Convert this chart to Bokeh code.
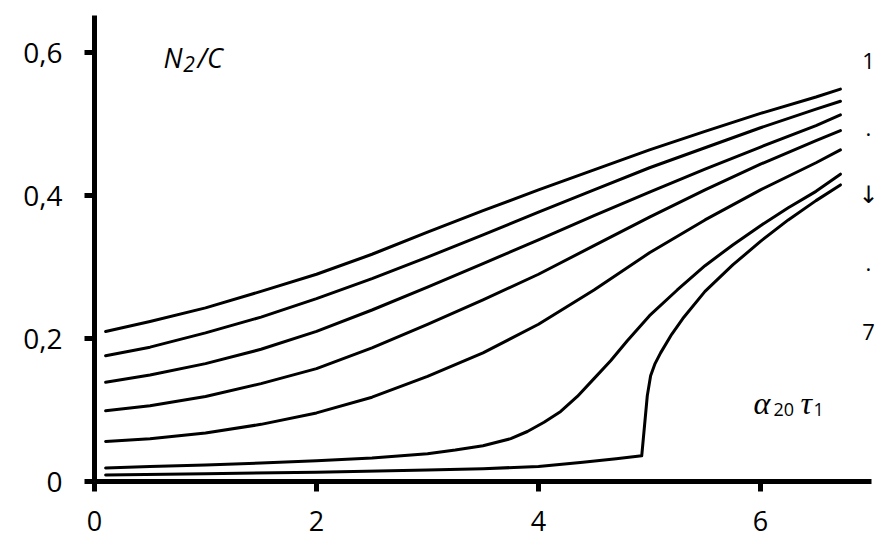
from bokeh.plotting import figure
from bokeh.models import Range1d, Label, FixedTicker
from bokeh.embed import file_html
from bokeh.resources import INLINE

# ---- data ----
x_ticks = [0, 2, 4, 6]
x_tick_labels = ["0", "2", "4", "6"]
y_ticks = [0, 0.2, 0.4, 0.6]
y_tick_labels = ["0", "0,2", "0,4", "0,6"]

x_common = [0.1, 0.5, 1.0, 1.5, 2.0, 2.5, 3.0, 3.5, 4.0, 4.5, 5.0, 5.5, 6.0, 6.5, 6.72]
curve1 = [0.210, 0.224, 0.243, 0.266, 0.290, 0.318, 0.349, 0.379, 0.408, 0.436, 0.464, 0.490, 0.515, 0.538, 0.549]
curve2 = [0.176, 0.188, 0.208, 0.230, 0.256, 0.284, 0.314, 0.345, 0.377, 0.408, 0.439, 0.467, 0.495, 0.521, 0.532]
curve3 = [0.139, 0.149, 0.165, 0.185, 0.210, 0.240, 0.272, 0.305, 0.338, 0.372, 0.405, 0.437, 0.468, 0.498, 0.513]
curve4 = [0.099, 0.106, 0.119, 0.137, 0.158, 0.187, 0.220, 0.254, 0.290, 0.330, 0.370, 0.408, 0.444, 0.477, 0.491]
curve5 = [0.056, 0.060, 0.068, 0.080, 0.096, 0.118, 0.147, 0.180, 0.220, 0.268, 0.320, 0.366, 0.408, 0.446, 0.464]

x_curve6 = [0.1, 0.5, 1.0, 1.5, 2.0, 2.5, 3.0, 3.25, 3.5, 3.75, 3.9, 4.05, 4.2, 4.35, 4.5,
            4.65, 4.8, 5.0, 5.25, 5.5, 5.75, 6.0, 6.25, 6.5, 6.72]
curve6 = [0.019, 0.021, 0.023, 0.026, 0.029, 0.033, 0.039, 0.044, 0.050, 0.060, 0.070, 0.083, 0.098, 0.119, 0.144,
          0.169, 0.197, 0.232, 0.268, 0.302, 0.331, 0.358, 0.383, 0.406, 0.430]

x_curve7 = [0.1, 1.0, 2.0, 3.0, 3.5, 4.0, 4.4, 4.7, 4.93, 4.98, 5.01, 5.05, 5.1, 5.2, 5.3, 5.5, 5.75, 6.0, 6.25, 6.5, 6.72]
curve7 = [0.009, 0.011, 0.013, 0.016, 0.018, 0.021, 0.027, 0.032, 0.036, 0.120, 0.148, 0.165, 0.180, 0.206, 0.228,
          0.266, 0.303, 0.336, 0.366, 0.393, 0.415]

series = [
    (x_common, curve1), (x_common, curve2), (x_common, curve3),
    (x_common, curve4), (x_common, curve5), (x_curve6, curve6), (x_curve7, curve7),
]

right_labels = ["1", ".", "\u2193", ".", "7"]

# ---- figure ----
# the frame fills the whole canvas; both axes are pinned at 0 and bounded
p = figure(width=878, height=540, output_backend="svg", toolbar_location=None,
           x_range=Range1d(-0.847, 7.063), y_range=Range1d(-0.0825, 0.673),
           min_border_left=0, min_border_right=0, min_border_top=0, min_border_bottom=0)
p.outline_line_color = None
p.grid.visible = False
p.background_fill_color = "white"
p.border_fill_color = "white"

for xs, ys in series:
    p.line(xs, ys, line_color="black", line_width=3, line_join="round", line_cap="round")

for ax in (p.xaxis[0], p.yaxis[0]):
    ax.axis_line_width = 5
    ax.axis_line_color = "black"
    ax.major_tick_line_width = 5
    ax.major_tick_line_color = "black"
    ax.major_tick_in = 0
    ax.major_tick_out = 10
    ax.minor_tick_line_color = None
    ax.major_label_text_font = "Open Sans"
    ax.major_label_text_font_size = "28px"
    ax.major_label_text_color = "black"
    ax.fixed_location = 0

p.xaxis.bounds = (0, 7.0)
p.xaxis.ticker = FixedTicker(ticks=x_ticks)
p.xaxis.major_label_overrides = dict(zip(x_ticks, x_tick_labels))
p.xaxis.major_label_standoff = 19
p.xaxis.major_label_text_font_size = "27px"

p.yaxis.bounds = (0, 0.652)
p.yaxis.ticker = FixedTicker(ticks=y_ticks)
p.yaxis.major_label_overrides = dict(zip(y_ticks, y_tick_labels))
p.yaxis.major_label_standoff = 22


def add_label(x, y, text, size, font="Open Sans", style="normal", align="left", baseline="middle"):
    p.add_layout(Label(x=x, y=y, text=text, text_font=font, text_font_size=size,
                       text_font_style=style, text_color="black",
                       text_align=align, text_baseline=baseline))


# N2/C
add_label(0.622, 0.5937, "N", "27px", style="italic")
add_label(0.800, 0.5839, "2", "21px", style="italic")
add_label(0.928, 0.5937, "/C", "27px", style="italic")

# alpha20 tau1
add_label(5.937, 0.1105, "\u03b1", "32px", font="Liberation Serif", style="italic")
add_label(6.117, 0.1014, "20", "18px")
add_label(6.360, 0.1105, "\u03c4", "32px", font="Liberation Serif", style="italic")
add_label(6.477, 0.1014, "1", "18px")

# right-hand curve numbering 1 . ↓ . 7
right_y = [0.5881, 0.4951, 0.4014, 0.3056, 0.2091]
right_font = ["Open Sans", "Open Sans", "DejaVu Sans", "Open Sans", "Open Sans"]
right_size = ["22px", "22px", "24px", "22px", "22px"]
for t, yy, fnt, sz in zip(right_labels, right_y, right_font, right_size):
    add_label(6.973, yy, t, sz, font=fnt, align="center")

open("out.html", "w").write(file_html(p, INLINE))
